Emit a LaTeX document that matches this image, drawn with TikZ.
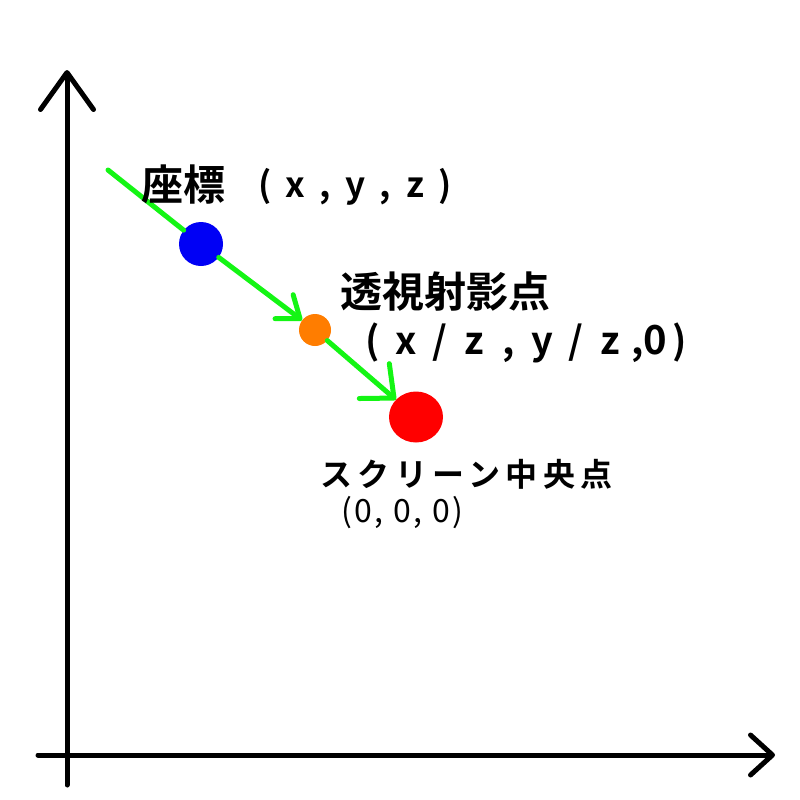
\documentclass[tikz,border=0pt]{standalone}
\usepackage{fontspec}
\usetikzlibrary{arrows.meta,shapes.geometric}
\newfontfamily\jpfont{Noto Sans CJK JP}[BoldFont={* Bold}]
\definecolor{raygreen}{RGB}{20,245,20}
\definecolor{dotblue}{RGB}{0,0,245}
\definecolor{dotorange}{RGB}{255,125,0}
\definecolor{dotred}{RGB}{255,0,0}
% one character in a cell of fixed pitch
\newcommand{\cellc}[2]{\makebox[#1pt][c]{#2}}

\begin{document}
\begin{tikzpicture}[x=1pt,y=-1pt,
    axis/.style={line width=5pt, line cap=round, line join=round},
    ray/.style={raygreen, line width=5pt, line cap=round},
    dot/.style={circle, inner sep=0pt},
    lbl/.style={inner sep=0pt, anchor=base west, font=\jpfont\bfseries},
    >={Straight Barb[length=20pt,width=30pt,line cap=round,line join=round]}]

  \useasboundingbox (0,0) rectangle (800,800);

  % axes
  \draw[axis, -{Straight Barb[length=37pt,width=53pt,line cap=round,line join=round]}] (67,785) -- (67,70);
  \draw[axis, -{Straight Barb[length=22pt,width=40pt,line cap=round,line join=round]}] (38,755) -- (775,755);

  % points
  \coordinate (start) at (108,170);
  \node[dot, fill=dotblue, minimum size=44pt] (coord) at (201,244) {};
  \node[dot, fill=dotorange, minimum size=32pt] (proj) at (315,330) {};
  \node[ellipse, inner sep=0pt, fill=dotred, minimum width=54pt, minimum height=51pt] (center) at (416,417) {};

  \draw[ray] (start) -- (coord);
  \draw[ray, ->] (coord) -- (proj);
  \draw[ray, -{Straight Barb[length=26pt,width=46pt,line cap=round,line join=round]}] (proj) -- (center);

  % labels
  \node[lbl] (coordlbl) at (141,200) {\fontsize{42}{42}\selectfont 座標\hspace{25pt}%
    \raisebox{3pt}{\fontsize{35}{35}\selectfont\cellc{30}{(}\cellc{30}{x}\cellc{30}{,}\cellc{30}{y}\cellc{30}{,}\cellc{30}{z}\cellc{30}{)}}};
  \node[lbl] (projlbl) at (340,307) {\fontsize{42}{42}\selectfont 透視射影点};
  \node[lbl] (projval) at (355,354) {\fontsize{38}{38}\selectfont
    \cellc{34}{(}\cellc{34}{x}\cellc{34}{/}\cellc{34}{z}\cellc{34}{,}\cellc{34}{y}\cellc{34}{/}\cellc{34}{z}\cellc{20}{,}\cellc{16}{\fontsize{40}{40}\selectfont 0}\cellc{32}{)}};
  \node[lbl] (centerlbl) at (320,486) {\fontsize{32}{32}\selectfont\addfontfeature{LetterSpace=17}スクリーン中央点};
  \node[lbl, font=\jpfont] (centerval) at (341,522) {\fontsize{32}{32}\selectfont\addfontfeature{LetterSpace=8}(0, 0, 0)};
\end{tikzpicture}
\end{document}
